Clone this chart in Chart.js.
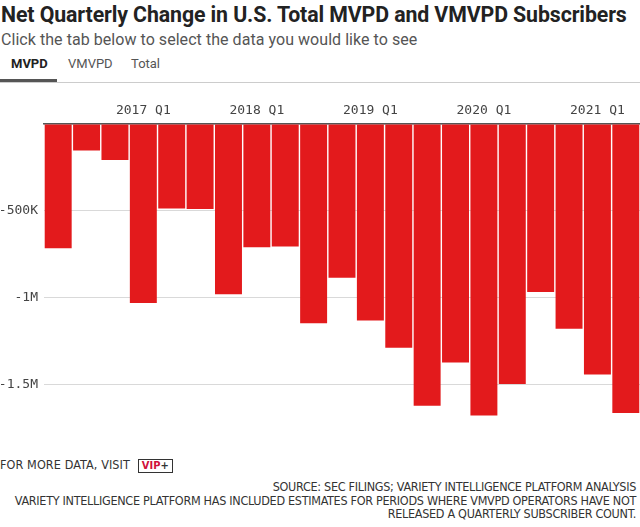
<!DOCTYPE html>
<html lang="en">
<head>
  <meta charset="UTF-8">
  <title>Net Quarterly Change in U.S. Total MVPD and VMVPD Subscribers</title>
  <script src="https://cdn.jsdelivr.net/npm/chart.js"></script>
  <style>
    body {
      margin: 0;
      width: 640px;
      height: 527px;
      overflow: hidden;
      background: #fff;
      font-family: 'DejaVu Sans Condensed', 'Liberation Sans Narrow', Roboto, sans-serif;
      color: #222;
      position: relative;
    }
    .title {
      position: absolute; top: 2px; left: 1px;
      font-family: Roboto, sans-serif;
      font-weight: 700; font-size: 21.3px; letter-spacing: -0.1px;
      white-space: nowrap;
    }
    .subtitle {
      position: absolute; top: 30px; left: 1px;
      font-family: Roboto, sans-serif;
      font-size: 16px; color: #555; white-space: nowrap; letter-spacing: 0.05px;
    }
    .tabs {
      position: absolute; top: 56px; left: 0; width: 640px; height: 26px;
      border-bottom: 1px solid #ccc;
      font-family: Roboto, sans-serif; font-size: 13px;
    }
    .tab { position: absolute; top: 0; color: #555; }
    .tab.active { font-weight: 700; color: #222; }
    .tab-line { position: absolute; left: 0; top: 23px; width: 57px; height: 3px; background: #555; }
    .chart-box { position: absolute; top: 92px; left: 0; width: 640px; height: 341px; }
    .more {
      position: absolute; top: 457px; left: 0; font-size: 12.5px; color: #333; white-space: nowrap;
      letter-spacing: 0.1px;
    }
    .vip {
      display: inline-block; border: 1px solid #333; padding: 0 3px; margin-left: 4px;
      font-weight: 700; font-size: 11px; line-height: 12px; color: #333;
    }
    .vip b { color: #d0103a; }
    .source {
      position: absolute; top: 480px; right: 4px; text-align: right;
      font-size: 12.5px; line-height: 13.7px; color: #333; white-space: nowrap;
      letter-spacing: -0.3px;
    }
  </style>
</head>
<body>
  <div class="title">Net Quarterly Change in U.S. Total MVPD and VMVPD Subscribers</div>
  <div class="subtitle">Click the tab below to select the data you would like to see</div>
  <div class="tabs">
    <span class="tab active" style="left:11px">MVPD</span>
    <span class="tab" style="left:68px">VMVPD</span>
    <span class="tab" style="left:131px">Total</span>
    <div class="tab-line"></div>
  </div>
  <div class="chart-box"><canvas id="subsChart"></canvas></div>
  <div class="more">FOR MORE DATA, VISIT <span class="vip"><b>VIP</b>+</span></div>
  <div class="source">
    SOURCE: SEC FILINGS; VARIETY INTELLIGENCE PLATFORM ANALYSIS<br>
    VARIETY INTELLIGENCE PLATFORM HAS INCLUDED ESTIMATES FOR PERIODS WHERE VMVPD OPERATORS HAVE NOT<br>
    RELEASED A QUARTERLY SUBSCRIBER COUNT.
  </div>

  <script>
    const quarters = [
      '2016 Q2', '2016 Q3', '2016 Q4',
      '2017 Q1', '2017 Q2', '2017 Q3', '2017 Q4',
      '2018 Q1', '2018 Q2', '2018 Q3', '2018 Q4',
      '2019 Q1', '2019 Q2', '2019 Q3', '2019 Q4',
      '2020 Q1', '2020 Q2', '2020 Q3', '2020 Q4',
      '2021 Q1', '2021 Q2'
    ];
    const mvpdChange = [
      -716000, -153000, -207000,
      -1031000, -487000, -489000, -981000,
      -710000, -706000, -1147000, -885000,
      -1131000, -1289000, -1623000, -1374000,
      -1679000, -1498000, -968000, -1179000,
      -1443000, -1665000
    ];
    const yTicks = [0, -500000, -1000000, -1500000];

    function fmt(v) {
      if (v === 0) return '';
      if (Math.abs(v) >= 1e6) return (v / 1e6) + 'M';
      return (v / 1e3) + 'K';
    }

    const monoFont = { family: "'DejaVu Sans Mono', monospace", size: 13 };

    new Chart(document.getElementById('subsChart'), {
      type: 'bar',
      data: {
        labels: quarters,
        datasets: [{
          label: 'MVPD',
          data: mvpdChange,
          backgroundColor: '#e31a1c',
          barPercentage: 0.95,
          categoryPercentage: 1
        }]
      },
      options: {
        responsive: true,
        maintainAspectRatio: false,
        animation: false,
        layout: { padding: 0 },
        plugins: { legend: { display: false }, tooltip: { enabled: false } },
        scales: {
          x: {
            position: 'top',
            grid: { display: false, drawTicks: false },
            border: { display: true, color: '#555', width: 1.5 },
            ticks: {
              autoSkip: false, maxRotation: 0, padding: 6,
              color: '#444', font: monoFont,
              callback: (v, i) => quarters[i].endsWith('Q1') ? quarters[i] : ''
            },
            afterFit: s => { s.height = 32; }
          },
          y: {
            min: -1700000,
            max: 0,
            z: 1,
            grid: { color: 'rgba(0,0,0,0.15)', drawTicks: false },
            border: { display: false },
            afterBuildTicks: s => { s.ticks = yTicks.map(v => ({ value: v })); },
            ticks: {
              padding: 6, color: '#444', font: monoFont,
              callback: v => fmt(v)
            },
            afterFit: s => { s.width = 44; }
          }
        }
      }
    });
  </script>
</body>
</html>
